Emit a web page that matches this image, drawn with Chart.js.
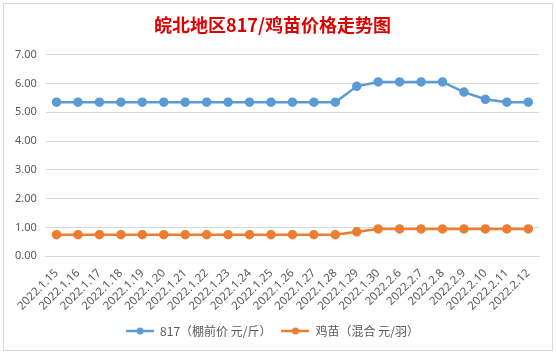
<!DOCTYPE html>
<html><head><meta charset="utf-8">
<script src="https://cdn.jsdelivr.net/npm/chart.js@4"></script>
<style>
html,body{margin:0;padding:0;background:#fff;}
#wrap{position:absolute;left:3px;top:3px;width:548px;height:346px;border:1px solid #d9d9d9;background:#fff;}
canvas{display:block;}
</style></head><body>
<div id="wrap"><canvas id="c" width="548" height="346"></canvas></div>
<script>
const categories = ["2022.1.15","2022.1.16","2022.1.17","2022.1.18","2022.1.19","2022.1.20","2022.1.21","2022.1.22","2022.1.23","2022.1.24","2022.1.25","2022.1.26","2022.1.27","2022.1.28","2022.1.29","2022.1.30","2022.2.6","2022.2.7","2022.2.8","2022.2.9","2022.2.10","2022.2.11","2022.2.12"];
const price817 = [5.35,5.35,5.35,5.35,5.35,5.35,5.35,5.35,5.35,5.35,5.35,5.35,5.35,5.35,5.9,6.05,6.05,6.05,6.05,5.7,5.45,5.35,5.35];
const chickPrice = [0.75,0.75,0.75,0.75,0.75,0.75,0.75,0.75,0.75,0.75,0.75,0.75,0.75,0.75,0.85,0.95,0.95,0.95,0.95,0.95,0.95,0.95,0.95];
const seriesNames = ["817（棚前价 元/斤）","鸡苗（混合 元/羽）"];
const titleText = "皖北地区817/鸡苗价格走势图";
const colors = ['#5B9BD5','#ED7D31'];

function legendMark(col){
  const c=document.createElement('canvas'); c.width=28; c.height=10;
  const g=c.getContext('2d');
  g.strokeStyle=col; g.lineWidth=2.5; g.beginPath(); g.moveTo(0,5); g.lineTo(28,5); g.stroke();
  g.fillStyle=col; g.beginPath(); g.arc(14,5,3.5,0,Math.PI*2); g.fill();
  return c;
}
const marks = colors.map(legendMark);

const txt = '#595959';
new Chart(document.getElementById('c'), {
  type: 'line',
  data: {
    labels: categories,
    datasets: [
      {label: seriesNames[0], data: price817, borderColor:colors[0], backgroundColor:colors[0], borderWidth:2.5, pointRadius:3.5, pointHoverRadius:3.5, tension:0},
      {label: seriesNames[1], data: chickPrice, borderColor:colors[1], backgroundColor:colors[1], borderWidth:2.5, pointRadius:3.5, pointHoverRadius:3.5, tension:0}
    ]
  },
  options: {
    responsive:false, animation:false,
    layout:{padding:{left:2,right:13,top:4,bottom:3}},
    plugins:{
      title:{display:true,text:titleText,color:'#E00000',font:{family:'"Noto Sans CJK SC"',size:18,weight:'bold'},padding:{top:6,bottom:19}},
      legend:{position:'bottom',labels:{color:txt,font:{family:'"Noto Sans CJK SC"',size:12},usePointStyle:true,pointStyleWidth:28,padding:10,
        generateLabels(chart){
          return chart.data.datasets.map((d,i)=>({text:d.label,pointStyle:marks[i],fillStyle:d.borderColor,strokeStyle:d.borderColor,lineWidth:0,fontColor:txt,datasetIndex:i,hidden:false}));
        }}},
      tooltip:{enabled:false}
    },
    scales:{
      x:{offset:true,grid:{display:false},border:{display:true,color:'#d9d9d9'},
        ticks:{color:txt,font:{family:'"Noto Sans"',size:11.5},maxRotation:45,minRotation:45,autoSkip:false,padding:2}},
      y:{min:0,max:7,grid:{color:'#d9d9d9',drawTicks:false},border:{display:false},
        ticks:{stepSize:1,color:txt,font:{family:'"Noto Sans"',size:11},padding:9,callback:v=>v.toFixed(2)}}
    }
  }
});
</script></body></html>
